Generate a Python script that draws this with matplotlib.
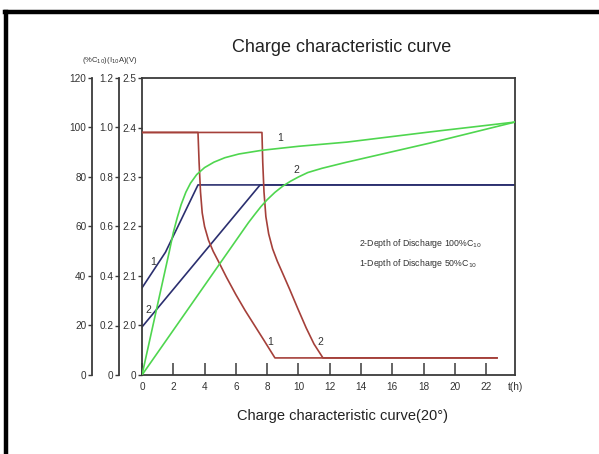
import matplotlib
matplotlib.use('Agg')
import matplotlib.pyplot as plt
from matplotlib.lines import Line2D

plt.rcParams['font.family'] = ['Liberation Sans', 'DejaVu Sans']

# ---------------- data ----------------
hour_ticks = [0, 2, 4, 6, 8, 10, 12, 14, 16, 18, 20, 22]
hour_labels = ['0', '2', '4', '6', '8', '10', '12', '14', '16', '18', '20', '22']
t_max = 23.85

volt_ticks = [1.9, 2.0, 2.1, 2.2, 2.3, 2.4, 2.5]
volt_labels = ['0', '2.0', '2.1', '2.2', '2.3', '2.4', '2.5']
cur_ticks = [0, 0.2, 0.4, 0.6, 0.8, 1.0, 1.2]
cur_labels = ['0', '0.2', '0.4', '0.6', '0.8', '1.0', '1.2']
pct_ticks = [0, 20, 40, 60, 80, 100, 120]
pct_labels = ['0', '20', '40', '60', '80', '100', '120']

# charged capacity (% C10)
cap1_t = [0, 1.75, 2.0, 2.25, 2.5, 2.8, 3.1, 3.5, 4.0, 4.6, 5.3, 6.2, 7.67, 10.0, 13.1, 18.4, 23.85]
cap1_pct = [0, 50.0, 57.5, 63.5, 68.8, 73.8, 77.5, 81.0, 83.8, 86.0, 87.8, 89.3, 90.8, 92.4, 94.1, 98.2, 102.2]
cap2_t = [0, 6.8, 7.2, 7.6, 8.0, 8.5, 9.0, 9.5, 10.0, 10.6, 11.5, 13.1, 18.4, 23.85]
cap2_pct = [0, 61.5, 64.8, 68.0, 70.8, 73.8, 76.3, 78.3, 80.0, 81.8, 83.5, 86.0, 93.7, 102.2]

# charging current (I10 A)
cur1_t = [0, 3.58, 3.65, 3.74, 3.85, 4.0, 4.25, 4.55, 4.92, 5.4, 6.0, 6.6, 7.2, 7.8, 8.5, 22.7]
cur1_a = [0.98, 0.98, 0.86, 0.74, 0.655, 0.60, 0.545, 0.50, 0.455, 0.395, 0.325, 0.26, 0.20, 0.14, 0.069, 0.069]
cur2_t = [0, 7.67, 7.72, 7.8, 7.92, 8.1, 8.35, 8.65, 9.0, 9.45, 9.95, 10.5, 11.0, 11.57, 22.7]
cur2_a = [0.98, 0.98, 0.86, 0.74, 0.64, 0.57, 0.51, 0.46, 0.41, 0.345, 0.27, 0.19, 0.125, 0.069, 0.069]

# cell voltage (V)
volt1_t = [0, 1.5, 3.58, 23.85]
volt1_v = [2.076, 2.148, 2.284, 2.284]
volt2_t = [0, 7.55, 23.85]
volt2_v = [1.997, 2.284, 2.284]

# ---------------- styling ----------------
RED = '#a5403a'
NAVY = '#2b2f6f'
GREEN = '#4fd64f'
SPINE = '#3a3a3a'
TXT = '#333333'

fig = plt.figure(figsize=(5.99, 4.54), dpi=100)
fig.patch.set_facecolor('white')

W, H = 599.0, 454.0
left, right, top, bottom = 142, 515, 78, 375
ax = fig.add_axes([left / W, 1 - bottom / H, (right - left) / W, (bottom - top) / H])
ax.set_xlim(0, t_max)
ax.set_ylim(1.9, 2.5)

ax_cur = ax.twinx()
ax_pct = ax.twinx()
ax_cur.set_ylim(0, 1.2)
ax_pct.set_ylim(0, 120)

for a in (ax, ax_cur, ax_pct):
    for s in a.spines.values():
        s.set_color(SPINE)
        s.set_linewidth(1.3)

for a, off in ((ax_cur, 23), (ax_pct, 50)):
    for name in ('top', 'right', 'bottom'):
        a.spines[name].set_visible(False)
    a.spines['left'].set_visible(True)
    a.spines['left'].set_position(('outward', off * 0.72))
    a.yaxis.set_ticks_position('left')
    a.yaxis.set_label_position('left')

ax.set_yticks(volt_ticks)
ax.set_yticklabels(volt_labels)
ax_cur.set_yticks(cur_ticks)
ax_cur.set_yticklabels(cur_labels)
ax_pct.set_yticks(pct_ticks)
ax_pct.set_yticklabels(pct_labels)

for a in (ax, ax_cur, ax_pct):
    a.tick_params(axis='y', direction='out', length=3, width=1, colors=SPINE,
                  labelcolor=TXT, labelsize=7.2, pad=1)

ax.set_xticks(hour_ticks + [t_max])
ax.set_xticklabels(hour_labels + ['t(h)'])
ax.tick_params(axis='x', direction='in', length=9, width=1.1, colors=SPINE,
               labelcolor=TXT, labelsize=7.2, pad=5)
ax.xaxis.get_major_ticks()[-1].tick1line.set_visible(False)

# curves
lw = 1.2
ax_pct.plot(cap1_t, cap1_pct, color=GREEN, lw=lw)
ax_pct.plot(cap2_t, cap2_pct, color=GREEN, lw=lw)
ax_cur.plot(cur1_t, cur1_a, color=RED, lw=lw)
ax_cur.plot(cur2_t, cur2_a, color=RED, lw=lw)
ax.plot(volt1_t, volt1_v, color=NAVY, lw=lw)
ax.plot(volt2_t, volt2_v, color=NAVY, lw=lw)

# curve numbers
lab = dict(fontsize=7.5, color=TXT, ha='center', va='center')
ax_pct.text(8.18, 13.3, '1', **lab)
ax_pct.text(11.4, 13.3, '2', **lab)
ax_pct.text(8.82, 95.8, '1', **lab)
ax_pct.text(9.9, 82.8, '2', **lab)
ax_pct.text(0.7, 45.7, '1', **lab)
ax_pct.text(0.38, 26.3, '2', **lab)

ax_pct.text(13.9, 53.0, '2-Depth of Discharge 100%C$_{10}$', fontsize=6.3, color=TXT,
            ha='left', va='center')
ax_pct.text(13.9, 45.0, '1-Depth of Discharge 50%C$_{10}$', fontsize=6.3, color=TXT,
            ha='left', va='center')

# titles
fig.text(342 / W, 1 - 47 / H, 'Charge characteristic curve', fontsize=13,
         color='#222222', ha='center', va='center')
fig.text(342 / W, 1 - 416 / H, 'Charge characteristic curve(20°)', fontsize=10.5,
         color='#222222', ha='center', va='center')
fig.text(110 / W, 1 - 60 / H, '(%C$_{10}$)(I$_{10}$A)(V)', fontsize=5.5,
         color=TXT, ha='center', va='center')

# outer frame
fig.add_artist(Line2D([5 / W, 1.0], [1 - 12 / H, 1 - 12 / H], color='black',
                      lw=3.2, transform=fig.transFigure, solid_capstyle='projecting'))
fig.add_artist(Line2D([6 / W, 6 / W], [1 - 12 / H, 0.0], color='black',
                      lw=3.2, transform=fig.transFigure, solid_capstyle='projecting'))

fig.savefig('out.png', dpi=100)
